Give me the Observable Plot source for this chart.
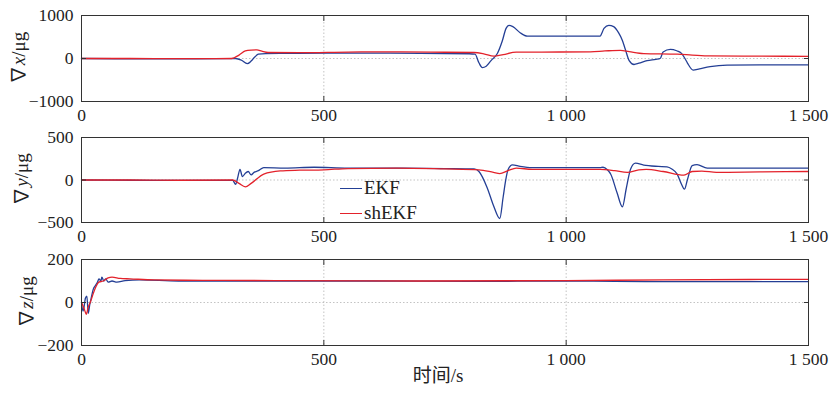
<!DOCTYPE html>
<html><head><meta charset="utf-8">
<script src="https://cdn.jsdelivr.net/npm/d3@7"></script>
<script src="https://cdn.jsdelivr.net/npm/@observablehq/plot@0.6"></script>
<style>
body{margin:0;background:#fff}
#c{position:relative;width:832px;height:393px;overflow:hidden}
#c svg{display:block;position:absolute;left:0}
.lg{position:absolute;left:340px;font-family:'Liberation Serif','Noto Sans CJK SC',serif;font-size:19px;color:#222;display:flex;align-items:center;height:20px}
.lg i{display:inline-block;width:22px;height:0;border-top:1.4px solid;margin-right:2px}
</style>
</head><body><div id="c"></div>
<script>
const series = ["EKF", "shEKF"];
const colors = ["#243f95", "#e3222b"];
const xTicks = [0, 500, 1000, 1500];

// Panel 1: ∇x
const dxEKF = [[0,0],[100,-8],[200,-10],[300,-5],[318,0],[330,-40],[342,-120],[350,-60],[358,40],[365,100],[380,115],[420,120],[500,125],[600,125],[700,120],[800,110],[812,100],[820,-100],[827,-210],[835,-180],[845,-50],[858,115],[868,400],[876,700],[882,770],[890,740],[905,600],[920,520],[950,520],[1000,520],[1070,520],[1074,600],[1078,700],[1088,770],[1098,740],[1108,600],[1116,420],[1122,215],[1130,-50],[1140,-140],[1150,-110],[1167,-50],[1185,-20],[1194,0],[1200,150],[1215,210],[1228,180],[1238,120],[1245,0],[1250,-100],[1262,-270],[1275,-240],[1297,-190],[1332,-155],[1400,-150],[1500,-150]];
const dxSH = [[0,0],[100,0],[200,-5],[310,0],[325,80],[338,175],[350,195],[362,200],[372,170],[385,140],[450,135],[550,150],[650,155],[750,145],[810,140],[830,110],[851,55],[870,90],[897,150],[950,150],[1050,155],[1080,175],[1112,190],[1130,160],[1160,115],[1229,100],[1260,80],[1297,60],[1400,55],[1500,50]];
const dxTicks = [-1000, 0, 1000];

// Panel 2: ∇y
const dyEKF = [[0,0],[100,-3],[200,-5],[312,-5],[318,-50],[322,20],[327,125],[332,40],[338,80],[344,100],[350,60],[356,90],[365,110],[376,145],[420,140],[480,150],[550,140],[650,140],[750,135],[810,130],[820,100],[837,-90],[850,-300],[863,-453],[870,-200],[875,-10],[880,120],[889,178],[905,160],[930,145],[1000,145],[1070,145],[1076,150],[1085,120],[1092,68],[1105,-150],[1116,-316],[1124,-100],[1133,130],[1143,198],[1160,175],[1190,160],[1208,155],[1218,130],[1229,70],[1238,-50],[1244,-108],[1250,0],[1260,170],[1270,180],[1291,140],[1400,140],[1500,140]];
const dySH = [[0,0],[100,0],[200,-3],[312,0],[325,-40],[338,-80],[350,-40],[376,70],[410,107],[450,115],[500,120],[550,135],[650,140],[750,130],[820,120],[850,90],[863,76],[880,110],[897,140],[930,125],[1000,125],[1070,125],[1100,110],[1126,90],[1150,120],[1165,125],[1200,100],[1243,57],[1260,100],[1280,105],[1310,90],[1400,95],[1500,100]];
const dyTicks = [-500, 0, 500];

// Panel 3: ∇z
const dzEKF = [[0,0],[3,-40],[6,-10],[8,20],[11,30],[14,-50],[17,-10],[20,20],[24,60],[29,80],[33,95],[36,110],[40,100],[42,118],[46,100],[50,110],[55,95],[63,100],[73,95],[90,102],[120,105],[200,100],[300,100],[400,100],[600,100],[800,98],[1000,100],[1100,98],[1200,97],[1500,97]];
const dzSH = [[0,0],[4,-20],[8,-45],[10,-55],[14,-20],[18,0],[24,40],[29,70],[36,95],[45,100],[55,115],[63,118],[80,112],[100,110],[150,105],[250,103],[400,102],[700,100],[1000,102],[1200,105],[1500,108]];
const dzTicks = [-200, 0, 200];

const FONT = "'Liberation Serif','Noto Sans CJK SC',serif";
const fmtX = d => d === 0 ? "0" : d3.format(",")(d).replace(",", " ");
const fmtY = d => d < 0 ? "\u2212" + Math.abs(d) : String(d);

function panel({ekf, sh, ticks, axisVar, top, mt, ph, mb, labelX, xlabel}) {
  const data = [
    ...ekf.map(([t, v]) => ({t, v, s: series[0]})),
    ...sh.map(([t, v]) => ({t, v, s: series[1]}))
  ];
  const h = mt + ph + mb;
  const blank = () => "";
  const svg = Plot.plot({
    width: 832, height: h,
    marginLeft: 81, marginRight: 24, marginTop: mt, marginBottom: mb,
    style: {fontFamily: FONT, fontSize: "17.5px", color: "#222", background: "transparent", overflow: "visible"},
    x: {domain: [0, 1500], label: null},
    y: {domain: [ticks[0], ticks[2]], label: null},
    color: {domain: series, range: colors},
    marks: [
      Plot.ruleX([500, 1000], {stroke: "#b4b4b4", strokeWidth: 0.8, strokeDasharray: "1.5,2"}),
      Plot.ruleY([0], {stroke: "#b4b4b4", strokeWidth: 0.8, strokeDasharray: "1.5,2"}),
      Plot.line(data, {x: "t", y: "v", z: "s", stroke: "s", strokeWidth: 1.3, curve: "monotone-x"}),
      Plot.frame({stroke: "#333", strokeWidth: 1}),
      Plot.axisX({anchor: "bottom", ticks: xTicks, tickSize: 0, tickPadding: 7, tickFormat: fmtX, label: null}),
      Plot.axisX({anchor: "bottom", ticks: xTicks, tickSize: -5, tickFormat: blank, label: null, stroke: "#333"}),
      Plot.axisX({anchor: "top", ticks: xTicks, tickSize: -5, tickFormat: blank, label: null, stroke: "#333"}),
      Plot.axisY({anchor: "left", ticks, tickSize: 0, tickPadding: 8, tickFormat: fmtY, label: null}),
      Plot.axisY({anchor: "left", ticks, tickSize: -5, tickFormat: blank, label: null, stroke: "#333"}),
      Plot.axisY({anchor: "right", ticks, tickSize: -5, tickFormat: blank, label: null, stroke: "#333"})
    ]
  });
  svg.style.top = top + "px";
  const s = d3.select(svg);
  const t = s.append("text")
    .attr("transform", `translate(${labelX},${mt + ph / 2}) rotate(-90)`)
    .attr("text-anchor", "middle").attr("dominant-baseline", "middle")
    .attr("fill", "#222").style("font-family", FONT).style("font-size", "19px");
  t.append("tspan").text("\u2207");
  t.append("tspan").attr("font-style", "italic").text(axisVar);
  t.append("tspan").text("/\u03bcg");
  if (xlabel) {
    s.append("text").attr("x", 438).attr("y", mt + ph + 33)
      .attr("text-anchor", "middle").attr("dominant-baseline", "middle")
      .attr("fill", "#222").style("font-family", FONT).style("font-size", "19px")
      .text(xlabel);
  }
  document.getElementById("c").appendChild(svg);
}

panel({ekf: dxEKF, sh: dxSH, ticks: dxTicks, axisVar: "x", top: 0, mt: 15, ph: 86, mb: 22, labelX: 21});
panel({ekf: dyEKF, sh: dySH, ticks: dyTicks, axisVar: "y", top: 123, mt: 14, ph: 85, mb: 24, labelX: 24});
panel({ekf: dzEKF, sh: dzSH, ticks: dzTicks, axisVar: "z", top: 246, mt: 13, ph: 86, mb: 48, labelX: 29, xlabel: "时间/s"});

// legend
const c = document.getElementById("c");
series.forEach((name, i) => {
  const d = document.createElement("div");
  d.className = "lg";
  d.style.top = (178 + i * 25) + "px";
  const sw = document.createElement("i");
  sw.style.borderTopColor = colors[i];
  d.appendChild(sw);
  d.appendChild(document.createTextNode(name));
  c.appendChild(d);
});
</script>
</body></html>
